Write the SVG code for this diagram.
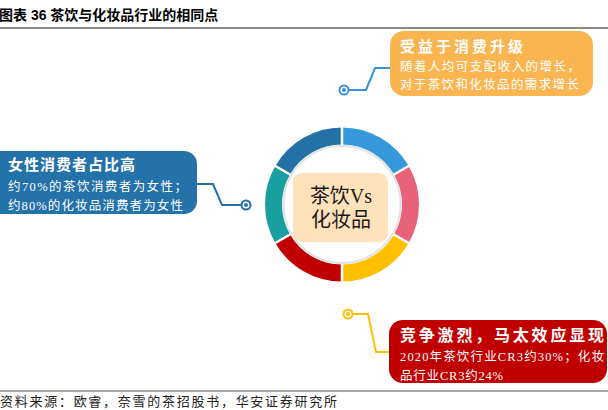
<svg xmlns="http://www.w3.org/2000/svg" width="608" height="410" viewBox="0 0 608 410">
<style>
.t-title{font-family:"Liberation Sans","Noto Sans CJK SC",sans-serif;font-weight:bold;font-size:14px;fill:#000}
.hd{font-family:"Liberation Serif","Noto Sans CJK SC",serif;font-weight:bold;fill:#fff}
.bd{font-family:"Liberation Serif","Noto Sans CJK SC",serif;fill:#fff}
.ctr{font-family:"Liberation Serif","Noto Sans CJK SC",serif;font-size:20px;fill:#1a1a1a}
.src{font-family:"Liberation Serif","Noto Sans CJK SC",serif;font-size:13px;fill:#222}
.seg{fill:none;stroke-width:17}
.gap{stroke:#fff;stroke-width:2.5}
.conn{fill:none;stroke-width:2}
.dot{fill:#fff;stroke-width:2}
</style>
<rect width="608" height="410" fill="#fff"/>
<g id="title">
<text class="t-title" x="-1" y="20">图表 36 茶饮与化妆品行业的相同点</text>
<line x1="0" y1="28" x2="608" y2="28" stroke="#8a8a8a" stroke-width="2"/>
</g>
<g id="ring">
<path class="seg" stroke="#3498DB" d="M342,136 A68.5,68.5 0 0 1 401.32,170.25"/>
<path class="seg" stroke="#E8637A" d="M401.32,170.25 A68.5,68.5 0 0 1 401.32,238.75"/>
<path class="seg" stroke="#FFC000" d="M401.32,238.75 A68.5,68.5 0 0 1 342,273"/>
<path class="seg" stroke="#C00000" d="M342,273 A68.5,68.5 0 0 1 282.68,238.75"/>
<path class="seg" stroke="#1A9FA0" d="M282.68,238.75 A68.5,68.5 0 0 1 282.68,170.25"/>
<path class="seg" stroke="#2471A8" d="M282.68,170.25 A68.5,68.5 0 0 1 342,136"/>
<line class="gap" x1="342" y1="145.5" x2="342" y2="124.5"/>
<line class="gap" x1="392.23" y1="175.5" x2="410.42" y2="165"/>
<line class="gap" x1="392.23" y1="233.5" x2="410.42" y2="244"/>
<line class="gap" x1="342" y1="262.5" x2="342" y2="284.5"/>
<line class="gap" x1="291.77" y1="233.5" x2="273.58" y2="244"/>
<line class="gap" x1="291.77" y1="175.5" x2="273.58" y2="165"/>
<circle cx="342" cy="204.5" r="58.5" fill="#fff" stroke="#e2e2e2" stroke-width="2"/>
</g>
<g id="center">
<rect x="293" y="173" width="95" height="69" rx="9" fill="#FFE1BA"/>
<text class="ctr" x="341" y="203" text-anchor="middle">茶饮Vs</text>
<text class="ctr" x="341" y="227" text-anchor="middle">化妆品</text>
</g>
<g id="connectors">
<polyline class="conn" stroke="#3A93DA" points="349,90 366,90 375,68 390,68"/>
<circle class="dot" stroke="#3A93DA" cx="344" cy="90" r="4.5"/>
<circle cx="344" cy="90" r="2" fill="#3A93DA"/>
<polyline class="conn" stroke="#2471A8" points="196,184 213,184 222,205 241,205"/>
<circle class="dot" stroke="#2471A8" cx="246" cy="205" r="4.5"/>
<circle cx="246" cy="205" r="2" fill="#2471A8"/>
<polyline class="conn" stroke="#FFC000" points="353,314 368,314 376,352 390,352"/>
<circle class="dot" stroke="#FFC000" cx="348" cy="314" r="4.5"/>
<circle cx="348" cy="314" r="2" fill="#FFC000"/>
</g>
<g id="box-top">
<rect x="390" y="31" width="203" height="65" rx="14" fill="#FBB550"/>
<text class="hd" x="400" y="52" font-size="15" textLength="123" lengthAdjust="spacing">受益于消费升级</text>
<text class="bd" x="400" y="71" font-size="12.5" textLength="180" lengthAdjust="spacing">随着人均可支配收入的增长，</text>
<text class="bd" x="400" y="89" font-size="12.5" textLength="179" lengthAdjust="spacing">对于茶饮和化妆品的需求增长</text>
</g>
<g id="box-left">
<rect x="-15" y="151" width="212" height="63" rx="13" fill="#2372A9"/>
<text class="hd" x="8" y="170" font-size="15" textLength="127" lengthAdjust="spacing">女性消费者占比高</text>
<text class="bd" x="8" y="191" font-size="12.5" textLength="179" lengthAdjust="spacing">约70%的茶饮消费者为女性；</text>
<text class="bd" x="8" y="210" font-size="12.5" textLength="175" lengthAdjust="spacing">约80%的化妆品消费者为女性</text>
</g>
<g id="box-bottom">
<rect x="389" y="320" width="218" height="63" rx="14" fill="#C00000"/>
<text class="hd" x="400" y="341" font-size="16" textLength="204" lengthAdjust="spacing">竞争激烈，马太效应显现</text>
<text class="bd" x="400" y="361" font-size="12.5" textLength="204" lengthAdjust="spacing">2020年茶饮行业CR3约30%；化妆</text>
<text class="bd" x="400" y="380" font-size="12.5" textLength="103" lengthAdjust="spacing">品行业CR3约24%</text>
</g>
<g id="footer">
<line x1="0" y1="391" x2="608" y2="391" stroke="#8a8a8a" stroke-width="1.5"/>
<text class="src" x="0" y="406" textLength="337" lengthAdjust="spacing">资料来源：欧睿，奈雪的茶招股书，华安证券研究所</text>
</g>
</svg>
